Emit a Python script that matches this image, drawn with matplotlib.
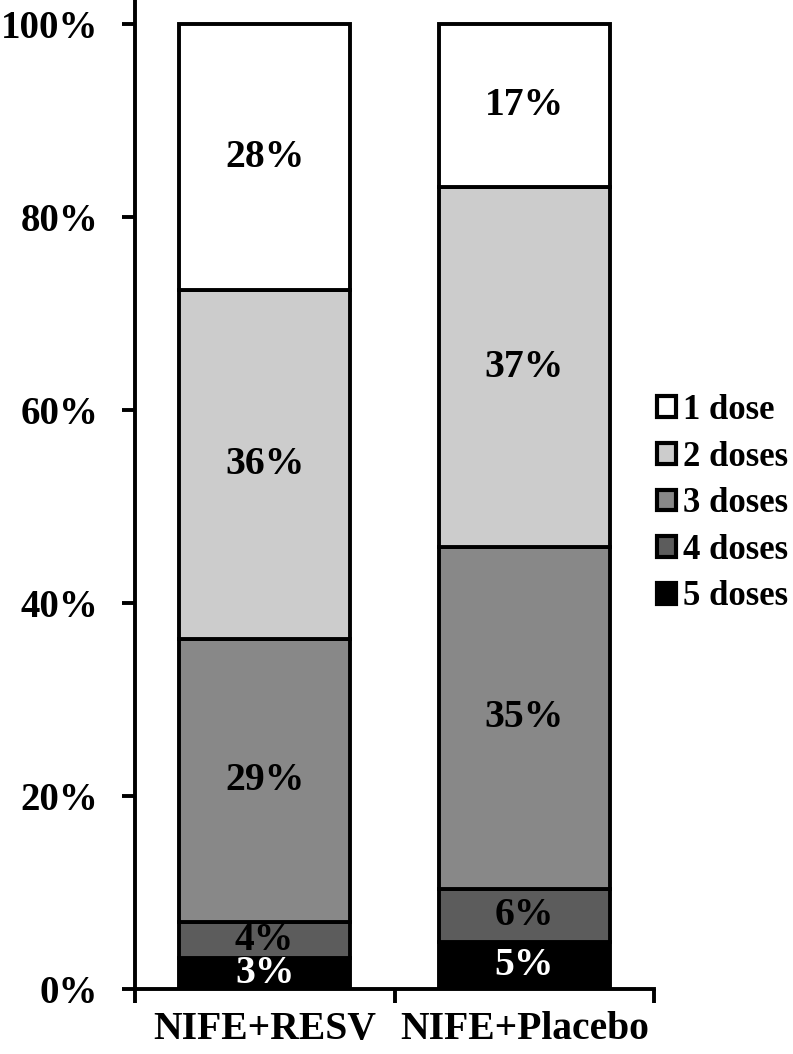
import matplotlib
matplotlib.use("Agg")
import matplotlib.pyplot as plt
from matplotlib.patches import Patch

groups = ["NIFE+RESV", "NIFE+Placebo"]
doses = ["1 dose", "2 doses", "3 doses", "4 doses", "5 doses"]
colors = ["#ffffff", "#cccccc", "#888888", "#5c5c5c", "#000000"]
text_colors = ["black", "black", "black", "black", "white"]

# segment heights (%), bottom to top: 5 doses ... 1 dose
resv = [3.2, 3.7, 29.4, 36.1, 27.6]
placebo = [4.9, 5.5, 35.4, 37.3, 16.9]
resv_labels = ["3%", "4%", "29%", "36%", "28%"]
placebo_labels = ["5%", "6%", "35%", "37%", "17%"]

plt.rcParams["font.family"] = ["Liberation Serif", "DejaVu Serif"]
plt.rcParams["font.weight"] = "bold"

fig = plt.figure(figsize=(7.93, 10.54), dpi=100)
ax = fig.add_axes([0.170, 0.0617, 0.655, 0.9383])

lw = 2.8
x = [0, 1]
bottoms = [0, 0]
stack_order = list(range(4, -1, -1))  # 5 doses first
for k, i in enumerate(stack_order):
    h = [resv[k], placebo[k]]
    ax.bar(x, h, width=0.66, bottom=bottoms, color=colors[i],
           edgecolor="black", linewidth=lw, zorder=2)
    for j in range(2):
        lab = resv_labels[k] if j == 0 else placebo_labels[k]
        ax.text(x[j], bottoms[j] + h[j] / 2, lab, ha="center", va="center",
                fontsize=28.5, fontweight="bold", color=text_colors[i], zorder=3)
    bottoms = [bottoms[0] + h[0], bottoms[1] + h[1]]

ax.set_xlim(-0.5, 1.5)
ax.set_ylim(0, 102.5)
ax.set_yticks([0, 20, 40, 60, 80, 100])
ax.set_yticklabels(["0%", "20%", "40%", "60%", "80%", "100%"])
ax.set_xticks([0, 1])
ax.set_xticklabels(groups)
ax.set_xticks([-0.5, 0.5, 1.5], minor=True)
ax.tick_params(axis="x", which="major", length=0, pad=16, labelsize=28.5)
ax.tick_params(axis="x", which="minor", length=10, width=lw, direction="out")
ax.tick_params(axis="y", length=9.5, width=lw, pad=17, labelsize=28)
for lbl in ax.get_xticklabels() + ax.get_yticklabels():
    lbl.set_fontweight("bold")

for s in ["top", "right"]:
    ax.spines[s].set_visible(False)
for s in ["left", "bottom"]:
    ax.spines[s].set_linewidth(lw)

handles = [Patch(facecolor=colors[i], edgecolor="black", linewidth=3.0,
                 label=doses[i]) for i in range(5)]
fig.legend(handles=handles, loc="center left", bbox_to_anchor=(0.829, 0.522),
           frameon=False, handlelength=0.55, handleheight=0.55,
           handletextpad=0.2, labelspacing=0.39, borderpad=0, borderaxespad=0,
           prop={"weight": "bold", "size": 25})

fig.savefig("out.png", dpi=100)
